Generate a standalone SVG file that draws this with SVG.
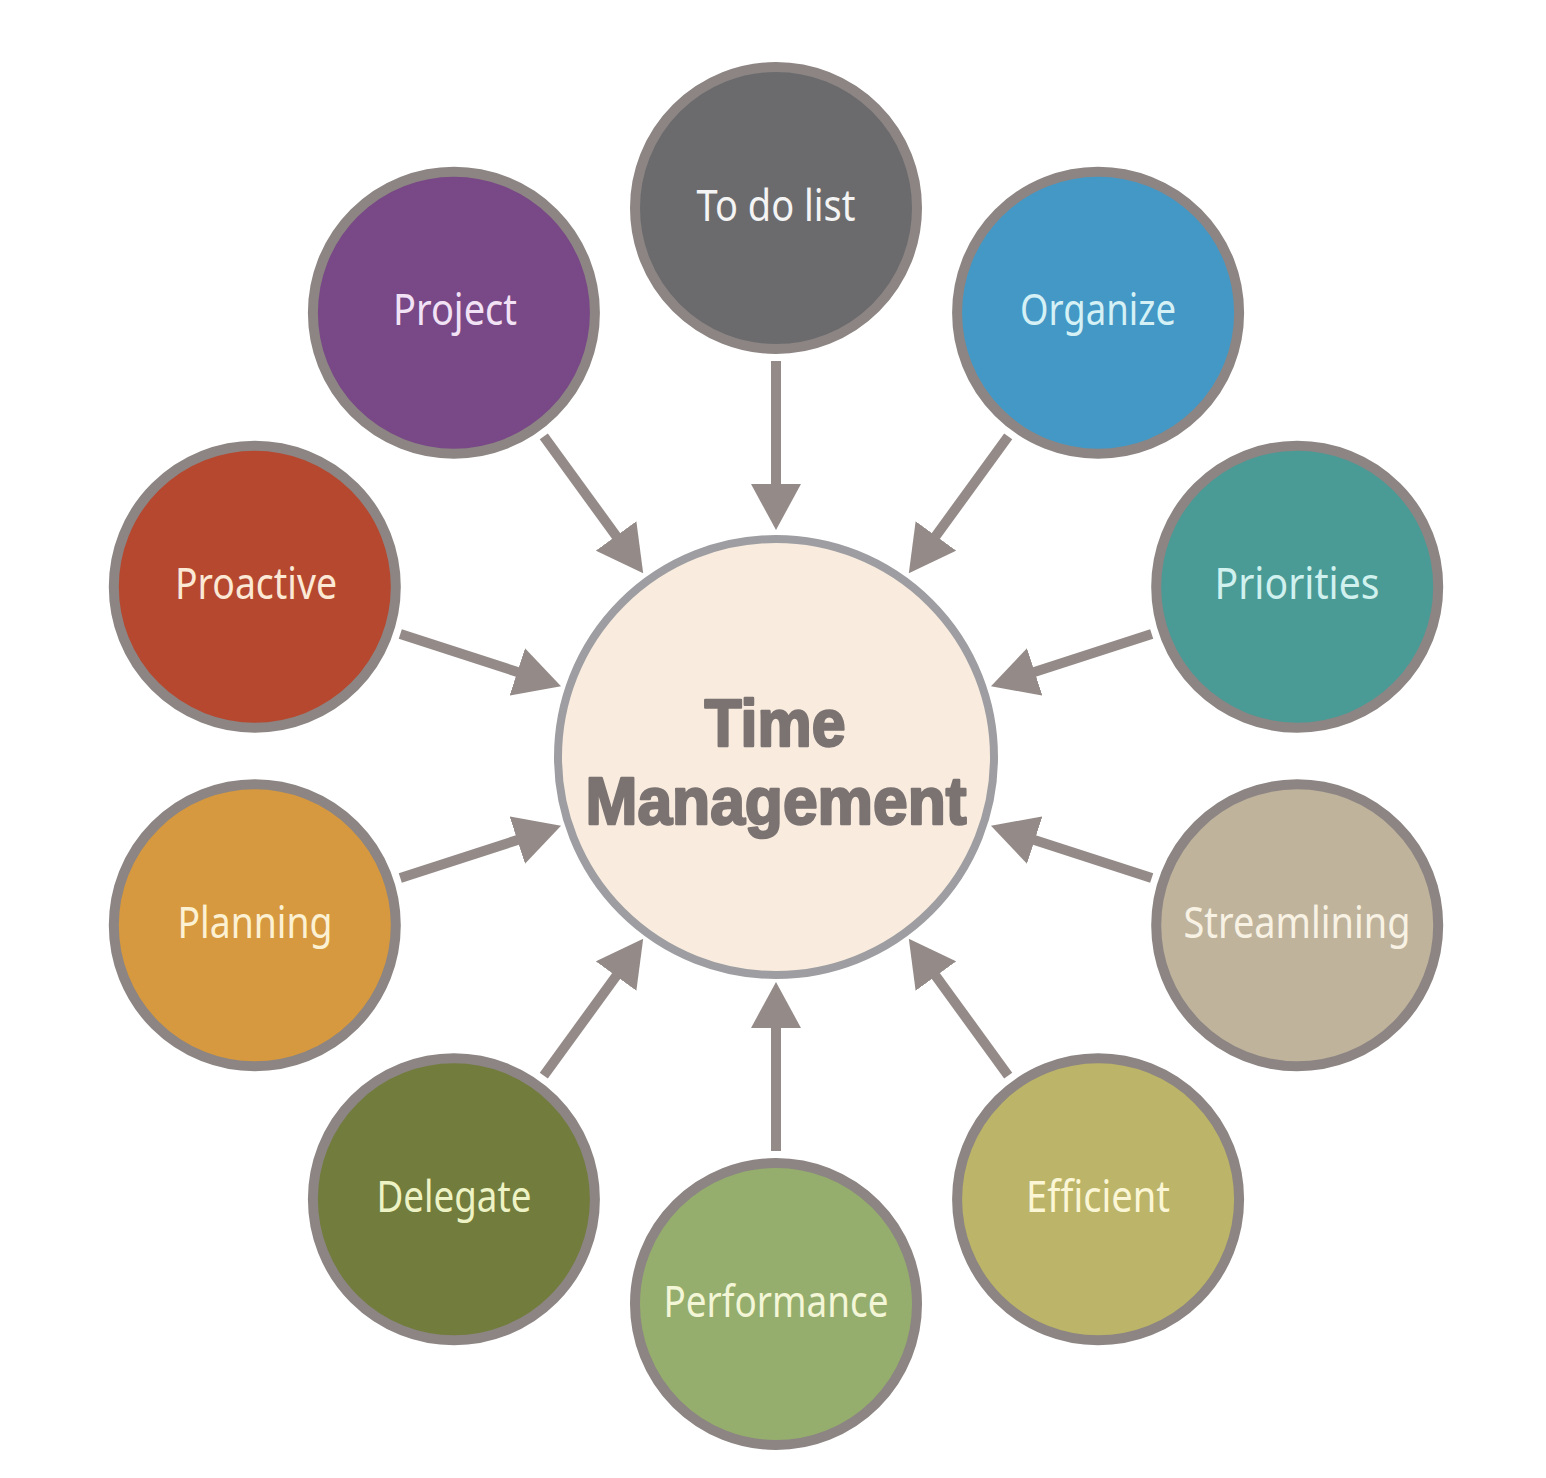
<svg xmlns="http://www.w3.org/2000/svg" width="1546" height="1478" viewBox="0 0 1546 1478">
  <defs>
    <marker id="ah" markerUnits="userSpaceOnUse" markerWidth="46" markerHeight="50" refX="20" refY="25" orient="auto">
      <path d="M0,0 L46,25 L0,50 z" fill="#948b89"/>
    </marker>
  </defs>
  <style>
    .node { stroke: #8c8583; stroke-width: 10; }
    .lbl { font-family: "Noto Sans", "Open Sans", sans-serif; font-size: 44px; text-anchor: middle; }
    .conn line { stroke: #948b89; stroke-width: 10; marker-end: url(#ah); }
    .hub { fill: #f9ecdf; stroke: #9e9ea2; stroke-width: 8; }
    .hubtxt { font-family: "Liberation Sans", Arial, sans-serif; font-weight: 900; font-size: 67px; fill: #7b7371; stroke: #7b7371; stroke-width: 2.5; stroke-linejoin: round; text-anchor: middle; }
  </style>
  <rect width="1546" height="1478" fill="#ffffff"/>

  <g id="connectors" class="conn">
    <line x1="776" y1="361" x2="776" y2="504"/>
    <line x1="1008.2" y1="436.4" x2="924.1" y2="552.1"/>
    <line x1="1151.7" y1="633.9" x2="1015.7" y2="678.1"/>
    <line x1="1151.7" y1="878.1" x2="1015.7" y2="833.9"/>
    <line x1="1008.2" y1="1075.6" x2="924.1" y2="959.9"/>
    <line x1="776" y1="1151" x2="776" y2="1008"/>
    <line x1="543.8" y1="1075.6" x2="627.9" y2="959.9"/>
    <line x1="400.3" y1="878.1" x2="536.3" y2="833.9"/>
    <line x1="400.3" y1="633.9" x2="536.3" y2="678.1"/>
    <line x1="543.8" y1="436.4" x2="627.9" y2="552.1"/>
  </g>

  <g id="center">
    <circle class="hub" cx="776" cy="757" r="218"/>
    <text class="hubtxt" x="775" y="746" textLength="141" lengthAdjust="spacingAndGlyphs">Time</text>
    <text class="hubtxt" x="776" y="824" textLength="381" lengthAdjust="spacingAndGlyphs">Management</text>
  </g>

  <g id="todo">
    <circle class="node" cx="776" cy="208" r="141" fill="#6b6b6d"/>
    <text class="lbl" x="776" y="221" fill="#f4f4f4" textLength="159" lengthAdjust="spacingAndGlyphs">To do list</text>
  </g>
  <g id="organize">
    <circle class="node" cx="1098.1" cy="312.7" r="141" fill="#4398c6"/>
    <text class="lbl" x="1098" y="325" fill="#d5f1f5" textLength="156" lengthAdjust="spacingAndGlyphs">Organize</text>
  </g>
  <g id="priorities">
    <circle class="node" cx="1297.2" cy="586.7" r="141" fill="#4a9a96"/>
    <text class="lbl" x="1297" y="599" fill="#d0f1ee" textLength="165" lengthAdjust="spacingAndGlyphs">Priorities</text>
  </g>
  <g id="streamlining">
    <circle class="node" cx="1297.2" cy="925.3" r="141" fill="#bfb39c"/>
    <text class="lbl" x="1297" y="938" fill="#f8f2e4" textLength="227" lengthAdjust="spacingAndGlyphs">Streamlining</text>
  </g>
  <g id="efficient">
    <circle class="node" cx="1098.1" cy="1199.3" r="141" fill="#bcb469"/>
    <text class="lbl" x="1098" y="1212" fill="#fbf7d6" textLength="144" lengthAdjust="spacingAndGlyphs">Efficient</text>
  </g>
  <g id="performance">
    <circle class="node" cx="776" cy="1304" r="141" fill="#95ae6d"/>
    <text class="lbl" x="776" y="1317" fill="#f4f6d8" textLength="225" lengthAdjust="spacingAndGlyphs">Performance</text>
  </g>
  <g id="delegate">
    <circle class="node" cx="453.9" cy="1199.3" r="141" fill="#727c3c"/>
    <text class="lbl" x="454" y="1212" fill="#eef3c6" textLength="155" lengthAdjust="spacingAndGlyphs">Delegate</text>
  </g>
  <g id="planning">
    <circle class="node" cx="254.8" cy="925.3" r="141" fill="#d6993f"/>
    <text class="lbl" x="255" y="938" fill="#fdf1d4" textLength="155" lengthAdjust="spacingAndGlyphs">Planning</text>
  </g>
  <g id="proactive">
    <circle class="node" cx="254.8" cy="586.7" r="141" fill="#b64830"/>
    <text class="lbl" x="256" y="599" fill="#fbe9d6" textLength="162" lengthAdjust="spacingAndGlyphs">Proactive</text>
  </g>
  <g id="project">
    <circle class="node" cx="453.9" cy="312.7" r="141" fill="#794886"/>
    <text class="lbl" x="455" y="325" fill="#f2e2f6" textLength="124" lengthAdjust="spacingAndGlyphs">Project</text>
  </g>
</svg>
